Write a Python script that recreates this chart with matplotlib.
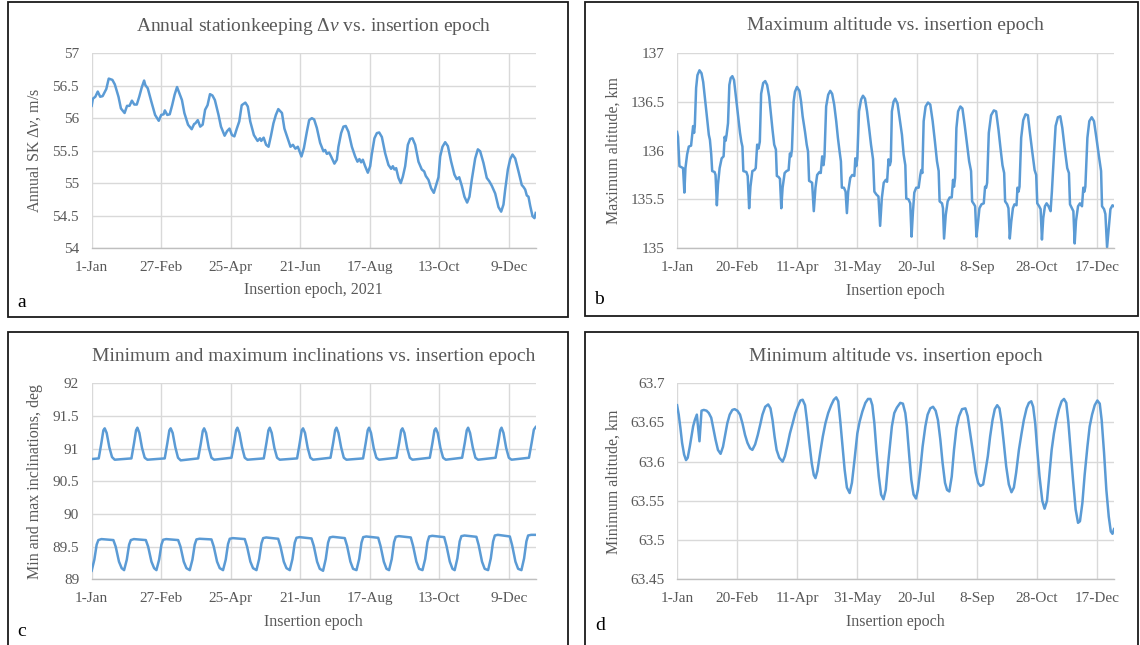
import matplotlib
matplotlib.use('Agg')
import matplotlib.pyplot as plt
from matplotlib.patches import Rectangle

plt.rcParams['font.family'] = ['Liberation Serif', 'DejaVu Serif']
plt.rcParams['mathtext.fontset'] = 'custom'
plt.rcParams['mathtext.rm'] = 'Liberation Serif'
plt.rcParams['mathtext.it'] = 'Liberation Serif:italic'

# ---- data (day index from 1-Jan-2021) ----
ticks_57 = [0, 57, 114, 171, 228, 285, 342]
labels_57 = ['1-Jan', '27-Feb', '25-Apr', '21-Jun', '17-Aug', '13-Oct', '9-Dec']
ticks_50 = [0, 50, 100, 150, 200, 250, 300, 350]
labels_50 = ['1-Jan', '20-Feb', '11-Apr', '31-May', '20-Jul', '8-Sep', '28-Oct', '17-Dec']

# a: annual SK delta-v
dv_day = [0, 1, 3, 5, 7, 9, 12, 14, 17, 19, 22, 24, 27, 29, 31, 33, 35, 37, 39, 41,
          43, 44, 46, 49, 52, 55, 57, 59, 60, 62, 64, 66, 68, 70, 71, 74, 76, 79, 82, 84,
          85, 87, 89, 91, 93, 95, 97, 99, 101, 104, 106, 109, 111, 113, 115, 117, 119, 121, 123, 126,
          128, 130, 133, 136, 138, 139, 141, 143, 145, 147, 149, 151, 153, 156, 158, 161, 163, 165, 167, 169,
          171, 172, 174, 176.4, 178.3, 180.5, 182.4, 184.6, 187.3, 190.0, 191.4, 192.8, 194.7, 196.3, 199.0, 201.0,
          202.3, 204.5, 206.4, 208.3, 210.5, 213.3, 216.0, 217.9, 219.5, 220.9, 222.3, 224.2, 226.4, 228.3, 229.6,
          231.8, 233.8, 235.7, 237.9, 240.6, 243.3, 245.5, 246.9, 248.2, 249.6, 251.5, 253.4, 255.1, 257.0, 259.2,
          261.1, 263.0, 265.2, 267.9, 270.6, 272.6, 273.9, 276.1, 278.3, 280.5, 282.1, 284.3, 285.7, 287.6, 289.8,
          292.0, 294.7, 297.4, 299.3, 301.3, 303.4, 305.6, 307.8, 309.7, 311.6, 314.4, 316.6, 318.5, 321.2, 323.9,
          325.9, 328.0, 330.8, 333.5, 335.7, 337.6, 339.0, 341.2, 343.1, 345.0, 347.2, 349.9, 352.6, 354.0, 355.4,
          356.7, 358.1, 359.5, 361.4, 363.0, 364.0]
dv_val = [56.19, 56.30, 56.33, 56.41, 56.33, 56.34, 56.45, 56.61, 56.59, 56.52, 56.33, 56.15, 56.08, 56.19, 56.19,
          56.27, 56.21, 56.21, 56.33, 56.47, 56.58, 56.51, 56.46, 56.25, 56.05, 55.96, 56.05, 56.06, 56.12, 56.05,
          56.06, 56.20, 56.36, 56.48, 56.43, 56.28, 56.08, 55.90, 55.83, 55.91, 55.92, 55.97, 55.87, 55.90, 56.13,
          56.20, 56.37, 56.35, 56.28, 56.05, 55.87, 55.73, 55.80, 55.84, 55.74, 55.72, 55.84, 55.95, 56.20, 56.24,
          56.18, 55.95, 55.74, 55.65, 55.69, 55.65, 55.70, 55.59, 55.56, 55.73, 55.92, 56.05, 56.14, 56.08, 55.84,
          55.67, 55.56, 55.59, 55.53, 55.56, 55.46, 55.41, 55.54, 55.79, 55.97, 56.00, 55.98, 55.85, 55.62, 55.49,
          55.51, 55.45, 55.47, 55.41, 55.30, 55.36, 55.56, 55.77, 55.87, 55.88, 55.79, 55.56, 55.41, 55.33, 55.37,
          55.32, 55.36, 55.26, 55.16, 55.26, 55.44, 55.69, 55.77, 55.78, 55.71, 55.46, 55.28, 55.22, 55.26, 55.21,
          55.23, 55.08, 55.00, 55.10, 55.26, 55.59, 55.68, 55.69, 55.59, 55.33, 55.21, 55.18, 55.11, 55.05, 54.92,
          54.85, 54.95, 55.09, 55.41, 55.56, 55.63, 55.57, 55.33, 55.13, 55.06, 55.09, 54.96, 54.79, 54.70, 54.79,
          55.05, 55.38, 55.52, 55.49, 55.31, 55.08, 55.03, 54.96, 54.84, 54.63, 54.56, 54.67, 54.90, 55.21, 55.37,
          55.44, 55.38, 55.18, 54.97, 54.94, 54.90, 54.81, 54.79, 54.65, 54.49, 54.46, 54.54]

# b: maximum altitude
hmax_day = [0, 0.8, 2.0, 3.6, 5.0, 6.1, 7.0, 8.4, 9.8, 11.7, 12.6, 13.4, 14.2, 14.8, 15.9, 17.0, 18.7, 20.4,
            21.8, 22.9, 24.6, 26.5, 27.4, 28.5, 29.3, 31.3, 32.1, 33.2, 34.1, 35.5, 37.2, 38.8, 39.7, 40.5,
            41.3, 42.5, 43.6, 44.7, 46.1, 47.5, 48.9, 50.8, 52.5, 53.6, 54.5, 55.3, 57.8, 58.9, 60.1, 61.2,
            62.8, 64.5, 65.6, 66.8, 67.9, 69.0, 70.1, 71.8, 73.5, 75.1, 76.8, 78.2, 79.6, 81.0, 82.4, 83.2,
            84.6, 85.8, 86.9, 88.0, 89.7, 91.3, 93.0, 94.1, 95.0, 95.8, 97.2, 98.3, 100.0, 102.0, 103.4, 104.7,
            106.7, 108.1, 109.2, 110.1, 111.5, 112.6, 114.0, 115.4, 116.8, 118.7, 119.8, 121.0, 122.1, 122.9,
            124.3, 126.0, 127.7, 129.3, 131.0, 132.7, 134.1, 135.5, 136.6, 137.4, 139.1, 140.5, 141.6, 142.7,
            144.4, 146.1, 147.8, 148.6, 149.4, 150.3, 151.7, 153.4, 155.0, 156.7, 158.4, 160.1, 161.7, 163.4,
            164.5, 166.2, 167.9, 169.3, 170.7, 172.3, 174.0, 175.1, 176.3, 177.4, 178.2, 179.1, 180.5, 181.9,
            183.8, 185.5, 187.5, 188.9, 190.3, 191.1, 193.0, 194.4, 195.5, 196.7, 197.8, 199.4, 201.4, 202.8,
            203.6, 204.5, 205.6, 207.2, 209.2, 211.1, 213.1, 215.0, 216.7, 218.1, 218.9, 220.9, 221.7, 222.6,
            224.0, 225.6, 227.3, 229.0, 230.1, 230.9, 231.8, 232.9, 234.3, 236.2, 237.9, 239.8, 241.8, 243.5,
            245.1, 246.0, 247.6, 248.5, 249.6, 250.7, 252.1, 253.8, 255.7, 256.8, 257.7, 258.5, 259.9, 261.8,
            264.1, 266.0, 268.0, 269.6, 271.3, 272.7, 273.5, 275.2, 276.3, 277.4, 278.6, 280.0, 281.3, 283.0,
            283.8, 284.7, 285.5, 286.9, 288.6, 290.5, 292.5, 294.2, 296.1, 298.1, 299.4, 300.3, 301.9, 303.1,
            304.2, 305.3, 306.7, 308.1, 309.7, 311.4, 312.5, 314.2, 315.6, 317.5, 319.5, 321.2, 323.1, 325.3,
            326.7, 327.6, 329.2, 330.4, 331.5, 332.6, 334.3, 335.9, 337.6, 338.7, 339.6, 340.4, 342.1, 343.7,
            345.7, 347.6, 349.6, 351.5, 353.5, 354.3, 356.0, 357.1, 358.5, 359.9, 361.3, 363.0, 364.3]
hmax_val = [136.19, 136.14, 135.84, 135.83, 135.82, 135.57, 135.82, 135.96, 136.04, 136.05, 136.16, 136.25, 136.18,
            136.25, 136.64, 136.77, 136.82, 136.79, 136.70, 136.57, 136.38, 136.16, 136.11, 135.96, 135.79, 135.78,
            135.75, 135.44, 135.65, 135.82, 135.92, 135.94, 136.14, 136.10, 136.16, 136.28, 136.67, 136.74, 136.76,
            136.72, 136.57, 136.36, 136.18, 136.09, 136.04, 135.79, 135.78, 135.74, 135.41, 135.63, 135.79, 135.80,
            135.82, 136.06, 136.02, 136.09, 136.58, 136.69, 136.71, 136.67, 136.55, 136.38, 136.21, 136.06, 136.01,
            135.74, 135.73, 135.71, 135.41, 135.62, 135.77, 135.79, 135.80, 135.97, 135.94, 136.01, 136.50, 136.60,
            136.65, 136.61, 136.50, 136.35, 136.19, 136.06, 135.99, 135.69, 135.68, 135.67, 135.38, 135.62, 135.75,
            135.78, 135.77, 135.94, 135.85, 135.94, 136.45, 136.57, 136.61, 136.58, 136.47, 136.30, 136.13, 135.99,
            135.89, 135.62, 135.62, 135.58, 135.36, 135.58, 135.72, 135.75, 135.74, 135.92, 135.84, 135.92, 136.40,
            136.52, 136.56, 136.53, 136.40, 136.23, 136.06, 135.91, 135.58, 135.55, 135.53, 135.23, 135.51, 135.67,
            135.70, 135.68, 135.91, 135.85, 135.89, 136.40, 136.50, 136.53, 136.48, 136.33, 136.16, 135.96, 135.85,
            135.51, 135.50, 135.46, 135.12, 135.38, 135.57, 135.62, 135.62, 135.75, 135.80, 135.77, 136.30, 136.45,
            136.49, 136.47, 136.30, 136.09, 135.89, 135.79, 135.48, 135.46, 135.41, 135.10, 135.34, 135.48, 135.52,
            135.52, 135.70, 135.63, 135.72, 136.23, 136.40, 136.45, 136.43, 136.26, 136.06, 135.89, 135.79, 135.48,
            135.45, 135.43, 135.12, 135.24, 135.41, 135.45, 135.46, 135.63, 135.62, 135.67, 136.18, 136.36, 136.41,
            136.40, 136.21, 136.03, 135.85, 135.77, 135.48, 135.45, 135.41, 135.10, 135.27, 135.41, 135.45, 135.44,
            135.62, 135.58, 135.63, 136.13, 136.31, 136.37, 136.36, 136.18, 135.99, 135.80, 135.75, 135.46, 135.43,
            135.40, 135.09, 135.31, 135.43, 135.46, 135.43, 135.38, 135.58, 135.96, 136.25, 136.34, 136.35, 136.23,
            136.03, 135.82, 135.77, 135.45, 135.41, 135.38, 135.05, 135.28, 135.43, 135.46, 135.43, 135.62, 135.58,
            135.63, 136.13, 136.30, 136.34, 136.30, 136.13, 135.96, 135.79, 135.43, 135.40, 135.35, 135.01, 135.21,
            135.40, 135.44, 135.43]

# c: maximum inclination
imax_day = [0, 5.8, 8.0, 9.6, 10.7, 12.3, 14.5, 16.7, 18.9,
            32.6, 34.8, 36.4, 37.5, 39.1, 41.3, 43.5, 45.7,
            59.9, 62.1, 63.7, 64.8, 66.4, 68.6, 70.8, 73.0,
            87.3, 89.5, 91.1, 92.2, 93.8, 96.0, 98.2, 100.4,
            114.6, 116.8, 118.4, 119.5, 121.1, 123.3, 125.5, 127.7,
            141.1, 143.3, 144.9, 146.0, 147.6, 149.8, 152.0, 154.2,
            168.4, 170.6, 172.2, 173.3, 174.9, 177.1, 179.3, 181.5,
            195.8, 198.0, 199.6, 200.7, 202.3, 204.5, 206.7, 208.9,
            222.5, 224.7, 226.3, 227.4, 229.0, 231.2, 233.4, 235.6,
            249.9, 252.1, 253.7, 254.8, 256.4, 258.6, 260.8, 263.0,
            277.2, 279.4, 281.0, 282.1, 283.7, 285.9, 288.1, 290.3,
            303.7, 305.9, 307.5, 308.6, 310.2, 312.4, 314.6, 316.8,
            331.1, 333.3, 334.9, 336.0, 337.6, 339.8, 342.0, 344.2,
            358.5, 360.7, 362.5, 364.0]
imax_val = [90.84, 90.85, 91.09, 91.28, 91.31, 91.24, 91.02, 90.87, 90.83,
            90.85, 91.09, 91.28, 91.32, 91.24, 91.01, 90.86, 90.83,
            90.85, 91.09, 91.28, 91.31, 91.24, 91.02, 90.86, 90.82,
            90.85, 91.08, 91.27, 91.31, 91.24, 91.01, 90.86, 90.83,
            90.86, 91.09, 91.28, 91.32, 91.24, 91.02, 90.86, 90.83,
            90.85, 91.09, 91.28, 91.32, 91.24, 91.01, 90.86, 90.83,
            90.85, 91.09, 91.28, 91.31, 91.24, 91.01, 90.86, 90.83,
            90.86, 91.09, 91.28, 91.32, 91.24, 91.02, 90.86, 90.83,
            90.85, 91.09, 91.28, 91.32, 91.24, 91.01, 90.86, 90.83,
            90.86, 91.09, 91.28, 91.31, 91.24, 91.01, 90.86, 90.83,
            90.86, 91.09, 91.28, 91.31, 91.24, 91.01, 90.86, 90.83,
            90.86, 91.09, 91.28, 91.32, 91.24, 91.02, 90.86, 90.83,
            90.86, 91.09, 91.28, 91.32, 91.24, 91.01, 90.86, 90.83,
            90.86, 91.09, 91.29, 91.33]

# c: minimum inclination
imin_day = [0, 2.2, 4.1, 5.5, 8.0, 17.8, 19.7, 22.4, 24.6,
            26.6, 28.8, 30.7, 32.1, 34.6, 44.4, 46.3, 49.0, 51.2,
            53.1, 55.3, 57.2, 58.6, 61.1, 70.9, 72.8, 75.5, 77.7,
            80.4, 82.6, 84.5, 85.9, 88.4, 98.2, 100.1, 102.8, 105.0,
            107.7, 109.9, 111.8, 113.2, 115.7, 125.5, 127.4, 130.1, 132.3,
            135.1, 137.3, 139.2, 140.6, 143.1, 152.9, 154.8, 157.5, 159.7,
            162.4, 164.6, 166.5, 167.9, 170.4, 180.2, 182.1, 184.8, 187.0,
            189.7, 191.9, 193.8, 195.2, 197.7, 207.5, 209.4, 212.1, 214.3,
            217.1, 219.3, 221.2, 222.6, 225.1, 234.9, 236.8, 239.5, 241.7,
            243.8, 246.0, 247.9, 249.3, 251.8, 261.6, 263.5, 266.2, 268.4,
            271.2, 273.4, 275.3, 276.7, 279.2, 289.0, 290.9, 293.6, 295.8,
            297.6, 299.8, 301.7, 303.1, 305.6, 315.4, 317.3, 320.0, 322.2,
            325.0, 327.2, 329.1, 330.5, 333.0, 342.8, 344.7, 347.4, 349.6,
            352.3, 354.5, 356.4, 357.8, 360.3, 364.0]
imin_val = [89.13, 89.30, 89.53, 89.60, 89.615, 89.60, 89.50, 89.27, 89.17,
            89.14, 89.30, 89.53, 89.60, 89.615, 89.60, 89.50, 89.27, 89.17,
            89.14, 89.30, 89.53, 89.605, 89.615, 89.60, 89.50, 89.27, 89.17,
            89.14, 89.30, 89.53, 89.61, 89.62, 89.61, 89.50, 89.27, 89.17,
            89.14, 89.30, 89.54, 89.62, 89.63, 89.615, 89.50, 89.27, 89.17,
            89.14, 89.31, 89.55, 89.63, 89.64, 89.62, 89.50, 89.27, 89.17,
            89.14, 89.31, 89.56, 89.635, 89.645, 89.625, 89.51, 89.27, 89.16,
            89.13, 89.31, 89.56, 89.64, 89.65, 89.63, 89.51, 89.27, 89.16,
            89.14, 89.31, 89.56, 89.645, 89.655, 89.635, 89.51, 89.27, 89.16,
            89.14, 89.31, 89.57, 89.65, 89.66, 89.64, 89.51, 89.27, 89.16,
            89.14, 89.31, 89.57, 89.655, 89.665, 89.645, 89.51, 89.27, 89.16,
            89.14, 89.32, 89.58, 89.66, 89.67, 89.65, 89.52, 89.27, 89.16,
            89.14, 89.32, 89.58, 89.67, 89.68, 89.655, 89.52, 89.27, 89.16,
            89.14, 89.32, 89.58, 89.67, 89.68, 89.68]

# d: minimum altitude
hmin_day = [0, 1.4, 2.8, 4.2, 5.9, 7.5, 8.9, 10.6, 12.0, 13.4, 14.8, 16.5, 18.7, 20.4, 22.3, 24.6, 26.5,
            28.5, 29.9, 32.1, 34.1, 36.3, 38.3, 39.9, 41.9, 43.9, 46.1, 48.0, 50.3, 52.5, 54.5, 56.7, 58.7,
            60.9, 62.8, 65.1, 67.3, 69.3, 71.2, 73.5, 76.0, 77.9, 79.6, 81.3, 83.0, 85.2, 88.0, 89.9, 92.2,
            94.1, 96.4, 98.6, 100.6, 102.8, 104.7, 106.7, 108.4, 110.3, 112.3, 114.0, 115.4, 117.0, 119.3,
            121.5, 123.7, 126.0, 128.5, 130.7, 132.7, 134.4, 136.0, 137.7, 139.7, 141.6, 143.9, 145.8, 148.0,
            150.3, 152.2, 154.5, 157.0, 159.2, 161.2, 162.8, 164.5, 166.2, 168.2, 170.1, 172.1, 174.0, 176.0,
            179.1, 181.1, 183.3, 186.1, 188.3, 190.3, 191.6, 193.6, 195.3, 197.2, 199.2, 200.8, 202.8, 204.7,
            207.0, 208.9, 211.1, 213.4, 215.6, 217.5, 219.5, 221.4, 223.4, 225.1, 227.0, 229.0, 230.9, 232.9,
            235.1, 237.6, 240.4, 242.3, 244.6, 246.8, 249.0, 251.0, 252.9, 255.2, 257.1, 259.1, 261.0, 263.0,
            264.9, 266.9, 268.8, 270.5, 272.4, 274.4, 276.6, 278.8, 280.8, 282.7, 285.0, 287.2, 289.1, 291.4,
            293.3, 295.3, 296.9, 298.6, 300.3, 302.2, 304.5, 306.4, 308.4, 310.3, 312.3, 314.2, 316.2, 318.4,
            320.6, 322.6, 324.5, 326.2, 328.1, 330.1, 332.3, 334.3, 335.9, 337.9, 339.8, 342.1, 344.0, 346.0,
            348.2, 350.4, 352.4, 354.0, 356.0, 357.9, 359.9, 361.6, 363.0, 364.3]
hmin_val = [63.672, 63.660, 63.643, 63.624, 63.609, 63.602, 63.605, 63.619, 63.632, 63.645, 63.653, 63.660,
            63.626, 63.665, 63.666, 63.665, 63.662, 63.656, 63.645, 63.628, 63.615, 63.610, 63.619, 63.632,
            63.649, 63.660, 63.666, 63.667, 63.665, 63.660, 63.649, 63.634, 63.624, 63.617, 63.615, 63.622,
            63.634, 63.647, 63.660, 63.670, 63.673, 63.668, 63.653, 63.632, 63.615, 63.605, 63.600, 63.607,
            63.622, 63.636, 63.649, 63.662, 63.670, 63.678, 63.679, 63.672, 63.651, 63.624, 63.598, 63.583,
            63.579, 63.588, 63.611, 63.632, 63.649, 63.662, 63.672, 63.679, 63.682, 63.677, 63.653, 63.624,
            63.590, 63.567, 63.560, 63.573, 63.603, 63.636, 63.651, 63.664, 63.675, 63.680, 63.680, 63.672,
            63.649, 63.615, 63.581, 63.558, 63.552, 63.564, 63.598, 63.645, 63.662, 63.669, 63.675, 63.674,
            63.662, 63.645, 63.607, 63.577, 63.558, 63.553, 63.564, 63.590, 63.619, 63.645, 63.660, 63.668,
            63.670, 63.665, 63.653, 63.628, 63.598, 63.573, 63.564, 63.562, 63.581, 63.615, 63.643, 63.658,
            63.667, 63.668, 63.658, 63.634, 63.611, 63.586, 63.573, 63.569, 63.571, 63.588, 63.607, 63.632,
            63.653, 63.667, 63.672, 63.668, 63.651, 63.624, 63.594, 63.571, 63.561, 63.567, 63.586, 63.615,
            63.636, 63.653, 63.668, 63.675, 63.677, 63.670, 63.649, 63.615, 63.581, 63.550, 63.540, 63.550,
            63.581, 63.615, 63.636, 63.653, 63.667, 63.677, 63.680, 63.675, 63.651, 63.615, 63.577, 63.539,
            63.522, 63.524, 63.547, 63.583, 63.619, 63.645, 63.660, 63.672, 63.678, 63.674, 63.653, 63.611,
            63.564, 63.530, 63.511, 63.508, 63.514]

TXT = '#595959'
LINE = '#5b9bd5'
GRID = '#d9d9d9'

fig = plt.figure(figsize=(11.4, 6.45), dpi=100)

# panel frames
for x0, y0, w, h in [(0.007, 0.5085, 0.4912, 0.4884), (0.5132, 0.5101, 0.4851, 0.4868),
                     (0.007, -0.03, 0.4912, 0.5157), (0.5132, -0.03, 0.4851, 0.5157)]:
    fig.add_artist(Rectangle((x0, y0), w, h, transform=fig.transFigure,
                             fill=False, ec='#1a1a1a', lw=1.3))


def style(ax, xt, xl, yt, yl, title, xlabel, ylabel, ylab_x):
    ax.set_xlim(0, 364)
    ax.set_ylim(yt[0], yt[-1])
    ax.set_xticks(xt)
    ax.set_xticklabels(xl)
    ax.set_yticks(yt)
    ax.set_yticklabels(yl)
    ax.grid(True, color=GRID, lw=1.0)
    ax.set_axisbelow(True)
    for s in ['top', 'right', 'left']:
        ax.spines[s].set_visible(False)
    ax.spines['bottom'].set_color('#bfbfbf')
    ax.spines['bottom'].set_linewidth(1.0)
    ax.tick_params(length=0, pad=9, labelsize=11, labelcolor=TXT)
    ax.set_title(title, fontsize=14, color=TXT, pad=16)
    ax.set_xlabel(xlabel, fontsize=11.5, color=TXT)
    ax.set_ylabel(ylabel, fontsize=11.5, color=TXT)
    ax.xaxis.set_label_coords(0.5, -0.175)
    ax.yaxis.set_label_coords(ylab_x, 0.5)


ax_a = fig.add_axes([0.0804, 0.6155, 0.3895, 0.3019])
ax_a.plot(dv_day, dv_val, color=LINE, lw=1.8)
style(ax_a, ticks_57, labels_57, [54, 54.5, 55, 55.5, 56, 56.5, 57],
      ['54', '54.5', '55', '55.5', '56', '56.5', '57'],
      r'Annual stationkeeping Δ$\mathit{v}$ vs. insertion epoch', 'Insertion epoch, 2021',
      r'Annual SK Δ$\mathit{v}$, m/s', -0.11)

ax_b = fig.add_axes([0.5939, 0.615, 0.383, 0.3033])
ax_b.plot(hmax_day, hmax_val, color=LINE, lw=1.8)
style(ax_b, ticks_50, labels_50, [135, 135.5, 136, 136.5, 137],
      ['135', '135.5', '136', '136.5', '137'],
      'Maximum altitude vs. insertion epoch', 'Insertion epoch', 'Maximum altitude, km', -0.126)

ax_c = fig.add_axes([0.0804, 0.1019, 0.3895, 0.3039])
ax_c.plot(imax_day, imax_val, color=LINE, lw=1.8)
ax_c.plot(imin_day, imin_val, color=LINE, lw=1.8)
style(ax_c, ticks_57, labels_57, [89, 89.5, 90, 90.5, 91, 91.5, 92],
      ['89', '89.5', '90', '90.5', '91', '91.5', '92'],
      'Minimum and maximum inclinations vs. insertion epoch', 'Insertion epoch',
      'Min and max inclinations, deg', -0.11)

ax_d = fig.add_axes([0.5939, 0.1019, 0.383, 0.3039])
ax_d.plot(hmin_day, hmin_val, color=LINE, lw=1.8)
style(ax_d, ticks_50, labels_50, [63.45, 63.5, 63.55, 63.6, 63.65, 63.7],
      ['63.45', '63.5', '63.55', '63.6', '63.65', '63.7'],
      'Minimum altitude vs. insertion epoch', 'Insertion epoch', 'Minimum altitude, km', -0.126)

for lbl, px, py in [('a', 22, 302), ('b', 599, 299), ('c', 22, 632), ('d', 600, 626)]:
    fig.text(px / 1140, 1 - py / 645, lbl, fontsize=14, color='black', ha='center', va='center')

fig.savefig('out.png', dpi=100)
